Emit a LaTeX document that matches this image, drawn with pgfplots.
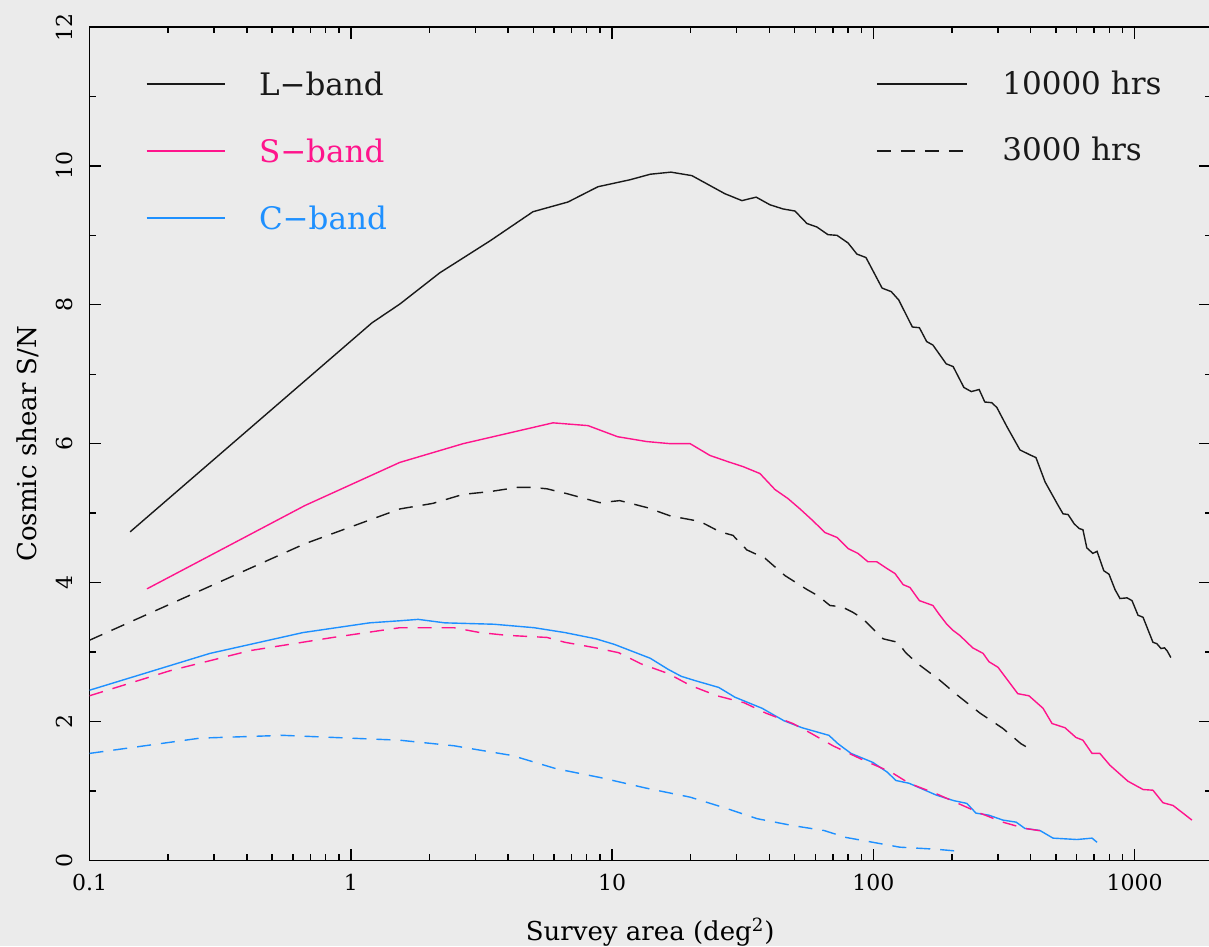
\documentclass[border=0pt]{standalone}
\usepackage{fontspec}
\setmainfont{DejaVu Serif}
\usepackage{pgfplots}
\pgfplotsset{compat=1.18}
\definecolor{bgc}{RGB}{235,235,235}
\definecolor{pinkc}{RGB}{255,20,140}
\definecolor{bluec}{RGB}{30,144,255}
\definecolor{blk}{RGB}{25,25,25}
\begin{document}
\begin{tikzpicture}
\fill[bgc] (-44.75pt,-43pt) rectangle (559.5pt,430pt);
\begin{axis}[
 at={(0,0)}, anchor=south west,
 scale only axis, width=560.5pt, height=416.5pt,
 xmode=log, xmin=0.1, xmax=1960, ymin=0, ymax=12,
 xtick={0.1,1,10,100,1000}, xticklabels={0.1,1,10,100,1000},
 minor xtick={0.2,0.3,0.4,0.5,0.6,0.7,0.8,0.9,2,3,4,5,6,7,8,9,20,30,40,50,60,70,80,90,200,300,400,500,600,700,800,900},
 ytick={0,2,4,6,8,10,12}, minor ytick={1,3,5,7,9,11},
 tick align=inside, major tick length=5.8pt, minor tick length=3.2pt,
 axis line style={line width=0.7pt, black},
 every tick/.style={black, line width=0.7pt},
 /pgf/number format/assume math mode=true,
 tick label style={font=\fontsize{11}{13}\selectfont},
 xticklabel style={anchor=base, yshift=-15pt, inner sep=0pt},
 yticklabel style={xshift=-8.5pt, rotate=90, anchor=base, inner sep=0pt},
 every axis x label/.style={at={(rel axis cs:0.5,0)}, anchor=base, yshift=-40pt, font=\fontsize{13}{15}\selectfont},
 every axis y label/.style={at={(rel axis cs:0,0.5)}, xshift=-26.5pt, rotate=90, anchor=base, font=\fontsize{13}{15}\selectfont},
 xlabel={Survey area (deg\textsuperscript{2})},
 ylabel={Cosmic shear S/N},
 every axis plot/.append style={line width=0.7pt},
]
% L-band, 10000 hrs
\addplot[blk] coordinates {
(0.143,4.73) (1.205,7.74) (1.54,8.01) (2.19,8.46) (3.41,8.92) (4.98,9.34) (6.78,9.48) (8.83,9.70) (11.7,9.80) (14.0,9.88) (16.8,9.91) (20.2,9.86) (27.0,9.60) (31.4,9.50) (35.6,9.55) (40.2,9.44) (45.1,9.38) (50.1,9.35) (55.7,9.17) (60.8,9.12) (67.0,9.01) (72.6,9.00) (80.0,8.89) (86.5,8.73) (93.7,8.68) (108,8.24) (117,8.19) (125,8.07) (141,7.68) (150,7.67) (160,7.47) (169,7.42) (190,7.15) (202,7.11) (222,6.81) (237,6.75) (254,6.78) (267,6.60) (284,6.59) (297,6.52) (325,6.24) (364,5.91) (397,5.84) (419,5.80) (454,5.45) (508,5.12) (532,4.99) (556,4.98) (586,4.85) (612,4.78) (634,4.76) (656,4.50) (692,4.42) (718,4.45) (762,4.17) (798,4.12) (841,3.90) (879,3.77) (935,3.78) (977,3.74) (1030,3.53) (1077,3.50) (1175,3.14) (1216,3.12) (1262,3.05) (1300,3.06) (1330,3.02) (1376,2.92)};
% S-band, 10000 hrs
\addplot[pinkc] coordinates {
(0.166,3.91) (0.668,5.11) (1.54,5.73) (2.69,6.00) (5.94,6.30) (8.09,6.26) (10.5,6.10) (13.6,6.03) (16.7,6.00) (19.9,6.00) (23.7,5.83) (27.8,5.74) (31.7,5.67) (36.8,5.57) (42.0,5.34) (47.1,5.21) (52.4,5.06) (58.7,4.89) (65.3,4.72) (72.6,4.65) (80.0,4.49) (87.3,4.42) (95.3,4.30) (103,4.30) (113,4.20) (121,4.13) (130,3.97) (138,3.93) (150,3.74) (169,3.67) (178,3.55) (191,3.40) (202,3.31) (214,3.24) (240,3.06) (263,2.98) (277,2.86) (300,2.78) (357,2.40) (394,2.37) (446,2.19) (483,1.97) (541,1.91) (596,1.77) (634,1.73) (687,1.54) (736,1.54) (804,1.37) (942,1.14) (1077,1.02) (1175,1.01) (1283,0.83) (1403,0.79) (1531,0.68) (1656,0.58)};
% L-band, 3000 hrs
\addplot[blk, dash pattern=on 7pt off 5pt] coordinates {
(0.1,3.17) (0.668,4.56) (1.54,5.06) (2.06,5.14) (2.69,5.27) (3.41,5.31) (4.33,5.37) (4.98,5.37) (5.63,5.35) (6.72,5.28) (8.99,5.15) (10.7,5.18) (13.6,5.08) (16.7,4.96) (21.7,4.88) (25.9,4.73) (29.0,4.68) (32.8,4.47) (38.5,4.35) (45.9,4.10) (55.7,3.90) (61.4,3.81) (68.2,3.67) (75.9,3.65) (83.6,3.57) (91.2,3.48) (101,3.31) (109,3.19) (124,3.14) (133,2.99) (148,2.83) (180,2.59) (211,2.37) (256,2.12) (313,1.90) (367,1.68) (412,1.57)};
% C-band, 10000 hrs
\addplot[bluec] coordinates {
(0.1,2.45) (0.289,2.98) (0.656,3.28) (1.18,3.42) (1.54,3.45) (1.81,3.47) (2.29,3.42) (3.53,3.40) (5.03,3.35) (6.60,3.28) (8.67,3.19) (10.2,3.11) (14.0,2.91) (16.4,2.75) (18.4,2.65) (20.7,2.59) (25.6,2.49) (29.5,2.35) (37.5,2.19) (45.5,2.01) (53.3,1.91) (67.6,1.80) (73.2,1.68) (82.1,1.54) (99.6,1.41) (113,1.27) (122,1.15) (137,1.11) (174,0.94) (203,0.86) (228,0.82) (247,0.68) (277,0.65) (313,0.58) (352,0.55) (380,0.46) (434,0.43) (487,0.32) (601,0.30) (687,0.32) (718,0.26)};
% S-band, 3000 hrs
\addplot[pinkc, dash pattern=on 7pt off 5pt] coordinates {
(0.1,2.37) (0.203,2.73) (0.411,3.02) (0.855,3.21) (1.54,3.35) (2.48,3.35) (3.12,3.28) (3.96,3.24) (5.63,3.21) (6.60,3.14) (8.67,3.06) (10.6,2.99) (12.9,2.83) (16.4,2.69) (19.9,2.52) (25.2,2.37) (32.0,2.27) (38.8,2.12) (49.2,1.97) (57.7,1.83) (70.0,1.65) (92.0,1.44) (117,1.27) (137,1.11) (174,0.96) (211,0.82) (256,0.68) (313,0.55) (380,0.46) (446,0.42)};
% C-band, 3000 hrs
\addplot[bluec, dash pattern=on 7pt off 5pt] coordinates {
(0.1,1.54) (0.265,1.76) (0.551,1.80) (1.54,1.73) (2.48,1.65) (4.14,1.51) (6.10,1.32) (9.07,1.19) (13.5,1.04) (19.9,0.91) (27.3,0.75) (35.9,0.60) (49.2,0.50) (64.7,0.43) (78.5,0.33) (99.6,0.26) (126,0.19) (174,0.16) (214,0.13)};
\end{axis}
% legends
\begin{scope}[font=\fontsize{15.5}{18}\selectfont]
\draw[blk, line width=0.7pt] (28.5pt,388pt) -- (67.5pt,388pt);
\draw[pinkc, line width=0.7pt] (28.5pt,354.5pt) -- (67.5pt,354.5pt);
\draw[bluec, line width=0.7pt] (28.5pt,321pt) -- (67.5pt,321pt);
\node[anchor=base west, inner sep=0pt, text=blk] at (84.5pt,382.5pt) {L−band};
\node[anchor=base west, inner sep=0pt, text=pinkc] at (84.5pt,349pt) {S−band};
\node[anchor=base west, inner sep=0pt, text=bluec] at (84.5pt,315.5pt) {C−band};
\draw[blk, line width=0.7pt] (393.5pt,388pt) -- (438.5pt,388pt);
\draw[blk, line width=0.7pt, dash pattern=on 7pt off 5pt] (393.5pt,354.5pt) -- (438.5pt,354.5pt);
\node[anchor=base west, inner sep=0pt, text=blk] at (456pt,383pt) {10000 hrs};
\node[anchor=base west, inner sep=0pt, text=blk] at (456pt,350pt) {3000 hrs};
\end{scope}
\pgfresetboundingbox
\path (-44.75pt,-43pt) rectangle (559.5pt,430pt);
\end{tikzpicture}
\end{document}
